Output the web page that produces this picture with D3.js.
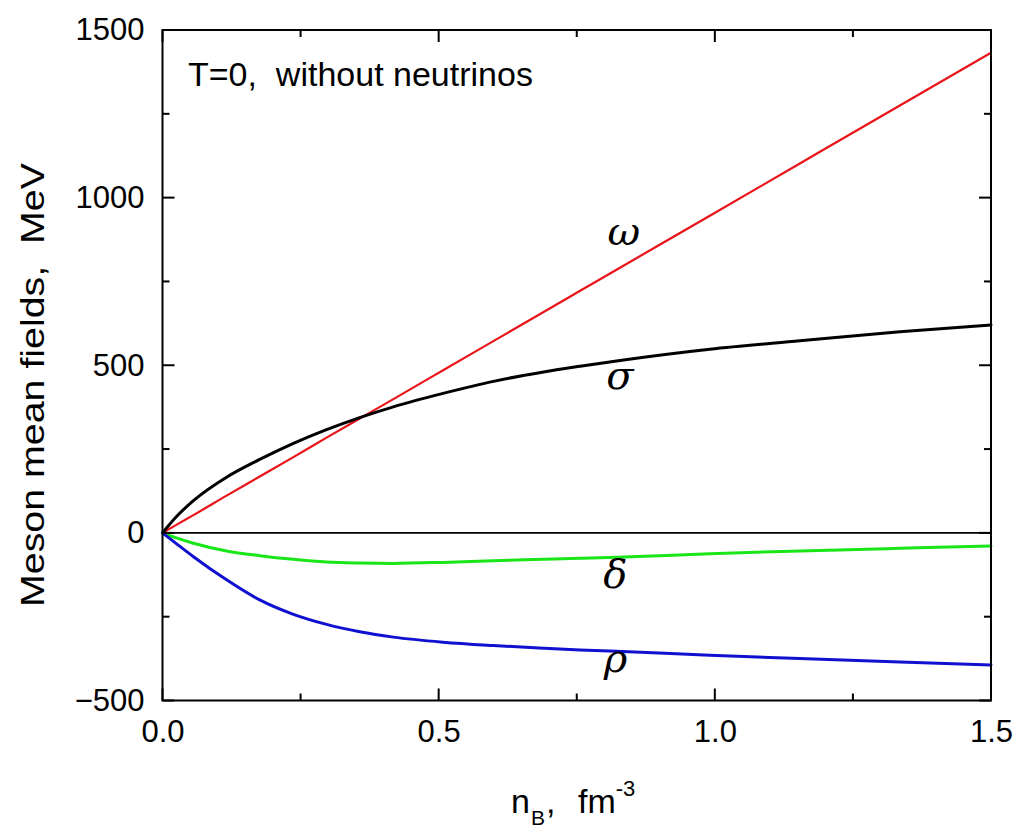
<!DOCTYPE html>
<html>
<head>
<meta charset="utf-8">
<script src="https://cdn.jsdelivr.net/npm/d3@7"></script>
<style>
  html, body { margin: 0; padding: 0; background: #fff; }
  svg { display: block; font-family: "Liberation Sans", Arial, sans-serif; }
</style>
</head>
<body>
<svg id="chart" width="1020" height="831"></svg>
<script>
// Baryon density n_B (fm^-3) sample points
const nB = [0, 0.025, 0.056, 0.116, 0.176, 0.237, 0.297, 0.357, 0.418, 0.508, 0.599, 0.69, 0.756, 0.822, 0.991, 1.154, 1.335, 1.5];

// Meson mean fields, MeV
const omegaField = [0, 24, 53, 111, 168, 226, 284, 341, 399, 485, 572, 659, 722, 785, 946, 1102, 1275, 1432];
const sigmaField = [0, 48, 96, 166, 219, 267, 308, 344, 376, 416, 452, 480, 497, 513, 548, 573, 600, 620];
const deltaField = [0, -15, -31, -54, -68, -79, -87, -90, -91, -88, -83, -79, -76, -73, -62, -54, -46, -39];
const rhoField = [0, -32, -71, -140, -200, -243, -273, -295, -311, -326, -336, -344, -349, -353, -365, -375, -385, -394];

const series = [
  { name: "omega", values: omegaField, color: "#e8141a", width: 2.2 },
  { name: "sigma", values: sigmaField, color: "#000000", width: 3 },
  { name: "delta", values: deltaField, color: "#19e619", width: 3 },
  { name: "rho", values: rhoField, color: "#1010d0", width: 3 }
];

// Curve labels (Greek symbols) anchored at data coordinates
const curveLabels = [
  { text: "ω", n: 0.835, v: 860 },
  { text: "σ", n: 0.828, v: 430 },
  { text: "δ", n: 0.82, v: -165 },
  { text: "ρ", n: 0.82, v: -415 }
];

const xTickValues = [0, 0.5, 1.0, 1.5];
const yTickValues = [-500, 0, 500, 1000, 1500];

const margin = { left: 162.5, right: 1020 - 991, top: 30, bottom: 831 - 700.5 };
const width = 1020, height = 831;

const svg = d3.select("#chart");

const x = d3.scaleLinear().domain([0, 1.5]).range([margin.left, width - margin.right]);
const y = d3.scaleLinear().domain([-500, 1500]).range([height - margin.bottom, margin.top]);

// Zero line
svg.append("line")
  .attr("x1", x(0)).attr("x2", x(1.5))
  .attr("y1", y(0)).attr("y2", y(0))
  .attr("stroke", "#000").attr("stroke-width", 1.8);

// Field curves
const line = d3.line()
  .x((d, i) => x(nB[i]))
  .y(d => y(d))
  .curve(d3.curveMonotoneX);

svg.append("g").selectAll("path")
  .data(series)
  .join("path")
  .attr("d", d => line(d.values))
  .attr("fill", "none")
  .attr("stroke", d => d.color)
  .attr("stroke-width", d => d.width)
  .attr("stroke-linejoin", "round")
  .attr("stroke-linecap", "round");

// Frame
svg.append("rect")
  .attr("x", x(0)).attr("y", y(1500))
  .attr("width", x(1.5) - x(0)).attr("height", y(-500) - y(1500))
  .attr("fill", "none").attr("stroke", "#000").attr("stroke-width", 2);

// Inward ticks on all four sides (major + minor)
const xMinor = d3.range(0, 1.5001, 0.25);
const yMinor = d3.range(-500, 1500.1, 250);
function tickLen(v, majors) { return majors.some(m => Math.abs(m - v) < 1e-6) ? 12 : 7; }

const ticks = svg.append("g").attr("stroke", "#000").attr("stroke-width", 2);
xMinor.forEach(v => {
  const L = tickLen(v, xTickValues);
  ticks.append("line").attr("x1", x(v)).attr("x2", x(v)).attr("y1", y(-500)).attr("y2", y(-500) - L);
  ticks.append("line").attr("x1", x(v)).attr("x2", x(v)).attr("y1", y(1500)).attr("y2", y(1500) + L);
});
yMinor.forEach(v => {
  const L = tickLen(v, yTickValues);
  ticks.append("line").attr("x1", x(0)).attr("x2", x(0) + L).attr("y1", y(v)).attr("y2", y(v));
  ticks.append("line").attr("x1", x(1.5)).attr("x2", x(1.5) - L).attr("y1", y(v)).attr("y2", y(v));
});

// Tick labels via d3 axes (tick lines hidden; drawn above)
const xAxis = svg.append("g")
  .attr("transform", `translate(0,${y(-500)})`)
  .call(d3.axisBottom(x).tickValues(xTickValues).tickFormat(d3.format(".1f")).tickSize(0).tickPadding(19));
xAxis.select(".domain").remove();
xAxis.selectAll("text").attr("font-size", 31).attr("fill", "#000").attr("font-family", "Liberation Sans, Arial, sans-serif");

const yAxis = svg.append("g")
  .attr("transform", `translate(${x(0)},0)`)
  .call(d3.axisLeft(y).tickValues(yTickValues).tickFormat(d3.format("d")).tickSize(0).tickPadding(18));
yAxis.select(".domain").remove();
yAxis.selectAll("text").attr("font-size", 31).attr("fill", "#000").attr("font-family", "Liberation Sans, Arial, sans-serif");

// Panel annotation
svg.append("text")
  .attr("x", 188).attr("y", 86)
  .attr("font-size", 34)
  .attr("fill", "#000")
  .attr("xml:space", "preserve")
  .text("T=0,  without neutrinos");

// Greek curve labels
svg.append("g").selectAll("text")
  .data(curveLabels)
  .join("text")
  .attr("x", d => x(d.n))
  .attr("y", d => y(d.v))
  .attr("text-anchor", "middle")
  .attr("font-family", "DejaVu Serif, serif")
  .attr("font-style", "italic")
  .attr("font-size", 40)
  .attr("fill", "#000")
  .text(d => d.text);

// Axis titles
const xTitle = svg.append("text")
  .attr("y", 813)
  .attr("font-size", 34)
  .attr("fill", "#000");
xTitle.append("tspan").attr("x", 511).text("n");
xTitle.append("tspan").attr("x", 531).attr("font-size", 21).attr("dy", 12).text("B");
xTitle.append("tspan").attr("x", 546).attr("dy", -12).text(",");
xTitle.append("tspan").attr("x", 578).text("fm");
xTitle.append("tspan").attr("font-size", 22).attr("dy", -17).text("-3");

svg.append("text")
  .attr("transform", `translate(44,385) rotate(-90)`)
  .attr("text-anchor", "middle")
  .attr("font-size", 33)
  .attr("fill", "#000")
  .attr("xml:space", "preserve")
  .attr("textLength", 444)
  .attr("lengthAdjust", "spacingAndGlyphs")
  .text("Meson mean fields,  MeV");
</script>
</body>
</html>
